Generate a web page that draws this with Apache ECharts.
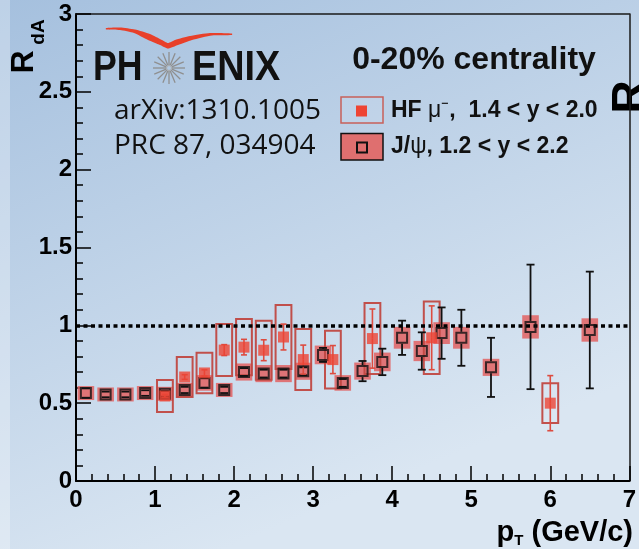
<!DOCTYPE html>
<html>
<head>
<meta charset="utf-8">
<script src="https://cdn.jsdelivr.net/npm/echarts@6/dist/echarts.min.js"></script>
<style>
  html, body { margin: 0; padding: 0; }
  #chart { width: 639px; height: 549px; }
</style>
</head>
<body>
<div id="chart"></div>
<script>
// J/psi R_dA, 0-20% centrality, 1.2 < y < 2.2
const jpsiPt   = [0.125, 0.375, 0.625, 0.875, 1.125, 1.375, 1.625, 1.875, 2.125, 2.375, 2.625, 2.875,
                  3.125, 3.375, 3.625, 3.875, 4.125, 4.375, 4.625, 4.875, 5.25, 5.75, 6.5];
const jpsiR    = [0.565, 0.556, 0.556, 0.565, 0.56, 0.585, 0.63, 0.585, 0.70, 0.69, 0.69, 0.705,
                  0.81, 0.63, 0.706, 0.765, 0.92, 0.835, 0.95, 0.92, 0.73, 0.99, 0.97];
const jpsiStat = [0.03, 0.018, 0.018, 0.018, 0.018, 0.02, 0.03, 0.02, 0.025, 0.025, 0.025, 0.025,
                  0.045, 0.025, 0.065, 0.085, 0.11, 0.12, 0.165, 0.18, 0.19, 0.40, 0.375];
const jpsiSys  = [0.045, 0.045, 0.045, 0.045, 0.045, 0.045, 0.05, 0.045, 0.055, 0.055, 0.055, 0.055,
                  0.06, 0.05, 0.055, 0.06, 0.07, 0.065, 0.07, 0.07, 0.055, 0.075, 0.075];

// HF muon R_dA, 1.4 < y < 2.0
const hfPt   = [1.125, 1.375, 1.625, 1.875, 2.125, 2.375, 2.625, 2.875, 3.25, 3.75, 4.5, 6.0];
const hfR    = [0.546, 0.668, 0.694, 0.841, 0.86, 0.84, 0.925, 0.78, 0.78, 0.915, 0.92, 0.50];
const hfStat = [0.01, 0.015, 0.02, 0.035, 0.05, 0.067, 0.083, 0.093, 0.09, 0.19, 0.205, 0.177];
const hfSys  = [0.103, 0.128, 0.13, 0.167, 0.18, 0.19, 0.205, 0.196, 0.185, 0.228, 0.233, 0.128];

const unityLevel = 1;

const jpsiData = jpsiPt.map((x, i) => [x, jpsiR[i], jpsiStat[i], jpsiSys[i]]);
const hfData   = hfPt.map((x, i) => [x, hfR[i], hfStat[i], hfSys[i]]);

const FONT = '"Liberation Sans", Arial, sans-serif';

// systematic uncertainty boxes
function boxSeries(data, halfW, style, z) {
  return {
    type: 'custom', data: data, z: z, silent: true,
    renderItem: function (params, api) {
      const x = api.value(0), y = api.value(1), s = api.value(3);
      const p0 = api.coord([x - halfW, y + s]);
      const p1 = api.coord([x + halfW, y - s]);
      return { type: 'rect',
        shape: { x: p0[0], y: p0[1], width: p1[0] - p0[0], height: p1[1] - p0[1] },
        style: style };
    }
  };
}

// statistical error bars; gap leaves the open marker's inside clear
function errSeries(data, color, width, cap, gap, z) {
  return {
    type: 'custom', data: data, z: z, silent: true,
    renderItem: function (params, api) {
      const x = api.value(0), y = api.value(1), e = api.value(2);
      const c = api.coord([x, y]);
      const t = api.coord([x, y + e]);
      const b = api.coord([x, y - e]);
      const st = { stroke: color, lineWidth: width, fill: null };
      const kids = [
        { type: 'line', shape: { x1: t[0] - cap, y1: t[1], x2: t[0] + cap, y2: t[1] }, style: st },
        { type: 'line', shape: { x1: b[0] - cap, y1: b[1], x2: b[0] + cap, y2: b[1] }, style: st }
      ];
      if (c[1] - t[1] > gap) kids.push({ type: 'line', shape: { x1: c[0], y1: t[1], x2: c[0], y2: c[1] - gap }, style: st });
      if (b[1] - c[1] > gap) kids.push({ type: 'line', shape: { x1: c[0], y1: c[1] + gap, x2: c[0], y2: b[1] }, style: st });
      return { type: 'group', children: kids };
    }
  };
}

// star burst of the PHENIX logo
function starBurst(cx, cy, r) {
  const kids = [];
  const n = 16;
  for (let i = 0; i < n; i++) {
    const a = i * 2 * Math.PI / n;
    kids.push({ type: 'line',
      shape: { x1: cx + 3 * Math.cos(a), y1: cy + 3 * Math.sin(a), x2: cx + r * Math.cos(a), y2: cy + r * Math.sin(a) },
      style: { stroke: '#8f8f8f', lineWidth: 1.3 } });
  }
  kids.push({ type: 'circle', shape: { cx: cx, cy: cy, r: 2.5 }, style: { fill: 'none', stroke: '#aaa', lineWidth: 1 } });
  return kids;
}

const chart = echarts.init(document.getElementById('chart'), null, { renderer: 'canvas' });

const axisBase = {
  type: 'value',
  splitLine: { show: false },
  axisLine: { show: true, onZero: false, lineStyle: { color: '#000', width: 2 } },
  axisTick: { show: true, inside: true, length: 15, lineStyle: { color: '#000', width: 1.5 } },
  minorTick: { show: true, splitNumber: 5, length: 7, lineStyle: { color: '#000', width: 1.5 } },
  axisLabel: { color: '#000', fontFamily: FONT, fontWeight: 'bold', fontSize: 24 }
};
const frameAxis = {
  type: 'value',
  splitLine: { show: false },
  axisLine: { show: true, onZero: false, lineStyle: { color: '#1a1a1a', width: 1.5 } },
  axisTick: { show: false }, minorTick: { show: false },
  axisLabel: { show: false }
};

const option = {
  animation: false,
  backgroundColor: new echarts.graphic.LinearGradient(0, 0, 0.35, 1, [
    { offset: 0, color: '#a5c0de' },
    { offset: 1, color: '#dae6f2' }
  ]),
  grid: { left: 76, right: 5, top: 14, bottom: 68, containLabel: false },
  xAxis: [
    Object.assign({}, axisBase, { min: 0, max: 7, interval: 1, position: 'bottom',
      axisLabel: Object.assign({}, axisBase.axisLabel, { margin: 7 }) }),
    Object.assign({}, frameAxis, { min: 0, max: 7, position: 'top' })
  ],
  yAxis: [
    Object.assign({}, axisBase, { min: 0, max: 3, interval: 0.5, position: 'left',
      axisLabel: Object.assign({}, axisBase.axisLabel, { margin: 4 }) }),
    Object.assign({}, frameAxis, { min: 0, max: 3, position: 'right' })
  ],
  series: [
    boxSeries(jpsiData, 0.105, { fill: 'rgba(226,98,98,0.85)', stroke: null }, 2),
    boxSeries(hfData, 0.1, { fill: null, stroke: 'rgba(192,72,66,0.95)', lineWidth: 2 }, 3),
    errSeries(jpsiData, '#111', 1.8, 4, 6, 4),
    errSeries(hfData, '#dd4c40', 1.6, 3, 0, 5),
    {
      name: 'J/psi', type: 'scatter', data: jpsiData, z: 6, symbol: 'rect', symbolSize: 10,
      itemStyle: { color: 'transparent', borderColor: '#111', borderWidth: 2 },
      markLine: {
        silent: true, symbol: 'none', label: { show: false },
        lineStyle: { color: '#000', width: 3.5, type: [4, 3.5] },
        data: [{ yAxis: unityLevel }]
      }
    },
    {
      name: 'HF', type: 'scatter', data: hfData, z: 7, symbol: 'rect', symbolSize: 11,
      itemStyle: { color: '#ee4433' }
    }
  ],
  graphic: [
    { type: 'rect', left: 0, top: 0, shape: { width: 10, height: 549 }, style: { fill: 'rgba(255,255,255,0.28)' }, silent: true },
    // y axis title
    { type: 'text', x: 24, y: 62, rotation: Math.PI / 2,
      style: { text: 'R', font: 'bold 32px ' + FONT, fill: '#000', align: 'center', verticalAlign: 'middle' } },
    { type: 'text', x: 39, y: 32, rotation: Math.PI / 2,
      style: { text: 'dA', font: 'bold 19px ' + FONT, fill: '#000', align: 'center', verticalAlign: 'middle' } },
    // x axis title
    { type: 'text', x: 633, y: 533,
      style: { text: '{p|p}{t|T}{u| (GeV/c)}', align: 'right', verticalAlign: 'middle',
        rich: {
          p: { font: 'bold 29px ' + FONT, fill: '#000' },
          t: { font: 'bold 15px ' + FONT, fill: '#000', padding: [16, 0, 0, 0] },
          u: { font: 'bold 29px ' + FONT, fill: '#000' }
        } } },
    // PHENIX logo
    { type: 'polygon', silent: true,
      shape: { points: [[106, 28], [120, 27.5], [135, 29.5], [150, 34], [162, 40], [168, 43], [175, 40], [190, 36], [210, 33], [232, 33.5],
                        [232, 35], [212, 35.5], [192, 40], [178, 45], [168, 48.5], [160, 45], [148, 40], [134, 33], [120, 30], [106, 29.5]], smooth: 0.2 },
      style: { fill: '#e8402a' } },
    { type: 'text', x: 93, y: 68, scaleX: 0.85,
      style: { text: 'PH', font: 'bold 42px ' + FONT, fill: '#111', align: 'left', verticalAlign: 'middle' } },
    { type: 'group', children: starBurst(169, 68, 16) },
    { type: 'text', x: 192, y: 68, scaleX: 0.9,
      style: { text: 'ENIX', font: 'bold 42px ' + FONT, fill: '#111', align: 'left', verticalAlign: 'middle' } },
    { type: 'text', x: 114, y: 111,
      style: { text: 'arXiv:1310.1005', font: '28px "Open Sans", sans-serif', fill: '#111', align: 'left', verticalAlign: 'middle' } },
    { type: 'text', x: 114, y: 146,
      style: { text: 'PRC 87, 034904', font: '28px "Open Sans", sans-serif', fill: '#111', align: 'left', verticalAlign: 'middle' } },
    // centrality label
    { type: 'text', x: 474, y: 60,
      style: { text: '0-20% centrality', font: 'bold 32px ' + FONT, fill: '#111', align: 'center', verticalAlign: 'middle' } },
    // legend
    { type: 'rect', shape: { x: 341, y: 97, width: 42, height: 26 }, style: { fill: 'rgba(255,255,255,0.08)', stroke: '#c8605a', lineWidth: 1.5 } },
    { type: 'rect', shape: { x: 356, y: 105.5, width: 11, height: 11 }, style: { fill: '#ee4433' } },
    { type: 'text', x: 391, y: 111,
      style: { text: '{b|HF }{g|μ⁻}{b|,  1.4 < y < 2.0}', align: 'left', verticalAlign: 'middle',
        rich: { b: { font: 'bold 23px ' + FONT, fill: '#111' }, g: { font: '23px ' + FONT, fill: '#111' } } } },
    { type: 'rect', shape: { x: 341, y: 133.5, width: 42, height: 26.5 }, style: { fill: '#df6f6f', stroke: '#111', lineWidth: 1.5 } },
    { type: 'rect', shape: { x: 357, y: 142.5, width: 10, height: 10 }, style: { fill: null, stroke: '#111', lineWidth: 2 } },
    { type: 'text', x: 391, y: 147,
      style: { text: '{b|J/}{g|ψ}{b|, 1.2 < y < 2.2}', align: 'left', verticalAlign: 'middle',
        rich: { b: { font: 'bold 23px ' + FONT, fill: '#111' }, g: { font: '23px ' + FONT, fill: '#111' } } } },
    // neighbouring panel's axis title, cut by the edge
    { type: 'text', x: 631, y: 97, rotation: Math.PI / 2,
      style: { text: 'R', font: 'bold 46px ' + FONT, fill: '#000', align: 'center', verticalAlign: 'middle' } }
  ]
};

chart.setOption(option);
</script>
</body>
</html>
